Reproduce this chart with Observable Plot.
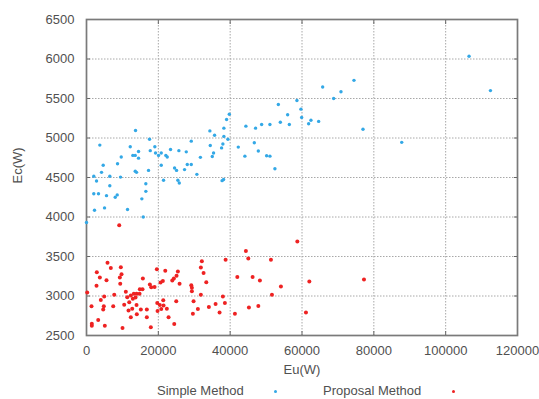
<!DOCTYPE html>
<html><head><meta charset="utf-8">
<script src="https://cdn.jsdelivr.net/npm/d3@7"></script>
<script src="https://cdn.jsdelivr.net/npm/@observablehq/plot@0.6"></script>
<style>
body{margin:0;background:#fff;font-family:"Liberation Sans",Arial,sans-serif;}
#wrap{position:relative;width:539px;height:399px;overflow:hidden;}
.lg{position:absolute;font-size:13px;color:#505050;top:383px;white-space:nowrap;line-height:16px;}
.dot{position:absolute;width:3px;height:3px;border-radius:50%;top:390px;}
</style></head><body><div id="wrap"></div>
<script>
const xTicks = [0, 20000, 40000, 60000, 80000, 100000, 120000];
const yTicks = [2500, 3000, 3500, 4000, 4500, 5000, 5500, 6000, 6500];
const seriesNames = ["Simple Method", "Proposal Method"];
const seriesColors = ["#33a8e6", "#ee2222"];
const xLabel = "Eu(W)";
const yLabel = "Ec(W)";

const simplePoints = [[0,3930],[2030,4515],[2230,4085],[2790,4455],[2030,4295],[3340,4295],[3710,4910],[4180,4565],[4650,4655],[5020,4115],[5570,4270],[6490,4515],[6490,4395],[8000,4250],[8550,4280],[8640,4675],[9470,4505],[9670,4760],[11420,4095],[12180,4890],[12900,4780],[13570,4780],[13650,5095],[13570,4580],[13930,4565],[14490,4830],[14490,4745],[15410,4230],[15800,4000],[16520,4420],[16520,4325],[17270,4590],[17550,4985],[17750,4840],[19030,4890],[19220,4810],[20060,4780],[20810,4810],[20810,4655],[21450,4465],[22090,4780],[22480,4760],[23400,4855],[24520,4620],[25070,4590],[25440,4465],[25830,4430],[25720,4840],[27300,4600],[27780,4825],[28060,4665],[29170,4665],[29170,4960],[30730,4540],[31710,4755],[34350,5090],[34460,4905],[35020,4765],[35380,4810],[35660,5035],[37610,4875],[37750,4460],[38170,4475],[37970,4925],[38250,5125],[38250,5020],[39000,5235],[39370,4985],[39760,5300],[42260,4885],[44100,4770],[44380,5150],[46720,4940],[47080,5125],[47840,4835],[48760,5170],[50150,4775],[51070,5170],[51070,4770],[52460,4610],[53410,5425],[53970,5200],[56000,5295],[56470,5170],[58590,5475],[59700,5365],[59900,5260],[61850,5180],[62490,5225],[64640,5210],[65750,5645],[68810,5500],[70850,5585],[74470,5730],[76980,5110],[87760,4945],[106510,6035],[112470,5600]];

const proposalPoints = [[200,3045],[1390,2870],[1480,2650],[1480,2625],[2790,3130],[2870,3300],[3260,2695],[3710,3235],[3980,2950],[4650,2830],[4820,2870],[4930,2995],[5100,2625],[5570,3200],[5850,3420],[6770,3355],[7440,2870],[7720,3015],[9110,3895],[9280,3235],[9390,3155],[9560,3365],[9750,3275],[10030,2595],[10500,2890],[10950,3055],[11340,2985],[11700,2815],[11900,2920],[12340,3005],[12340,2730],[12730,2840],[12900,2965],[13180,3030],[13650,2980],[13930,3030],[13930,2885],[14010,2770],[14770,3030],[14850,3085],[15130,2830],[15600,3085],[15690,3220],[16800,2830],[16800,2730],[17640,3145],[17910,2605],[18030,3110],[18950,3115],[19590,3340],[19700,2910],[19780,2810],[20420,2885],[20620,3170],[20810,2835],[21260,3190],[21370,2945],[21450,2880],[21930,3320],[22370,2840],[22850,2730],[23880,3195],[24320,3220],[24430,2645],[24990,2935],[25070,3255],[25440,3310],[25910,3155],[29170,3135],[29340,3105],[29340,3060],[29620,2775],[29810,2935],[31010,2835],[31840,3015],[31840,3360],[32120,3440],[32600,3290],[33350,3175],[34070,2860],[35940,2900],[37050,2790],[37970,2995],[38530,2910],[38730,3460],[41320,2775],[41990,3240],[44380,3570],[45050,3475],[45220,2855],[46250,3240],[47840,2875],[48280,3195],[51350,3460],[51630,3015],[54130,3120],[58700,3690],[61100,2790],[62040,3185],[77260,3210]];

const font = "'Liberation Sans', Arial, sans-serif";
const textColor = "#505050";

const chart = Plot.plot({
  width: 539,
  height: 378,
  marginTop: 19,
  marginLeft: 86,
  marginRight: 22,
  marginBottom: 43,
  x: {domain: [0, 120000]},
  y: {domain: [2500, 6500]},
  style: {fontFamily: font, fontSize: "13px", color: textColor, background: "#fff", overflow: "visible"},
  marks: [
    Plot.gridX(xTicks.slice(1, -1), {stroke: "#a8a8a8", strokeOpacity: 1, strokeDasharray: "1.5,1.5"}),
    Plot.gridY(yTicks.slice(1, -1), {stroke: "#a8a8a8", strokeOpacity: 1, strokeDasharray: "1.5,1.5"}),
    Plot.axisX(xTicks, {anchor: "bottom", tickSize: 0, tickPadding: 10, label: null, tickFormat: d => String(d)}),
    Plot.axisY(yTicks, {anchor: "left", tickSize: 0, tickPadding: 12, label: null, tickFormat: d => String(d)}),
    Plot.axisX(xTicks, {anchor: "bottom", tickSize: -4, fill: "none", label: null, stroke: "#666"}),
    Plot.axisX(xTicks, {anchor: "top", tickSize: -4, fill: "none", label: null, stroke: "#666"}),
    Plot.axisY(yTicks, {anchor: "left", tickSize: -4, fill: "none", label: null, stroke: "#666"}),
    Plot.axisY(yTicks, {anchor: "right", tickSize: -4, fill: "none", label: null, stroke: "#666"}),
    Plot.frame({stroke: "#7a7a7a", strokeWidth: 1.7}),
    Plot.text([xLabel], {frameAnchor: "bottom", dy: 38, text: d => d, fill: textColor, fontSize: 13}),
    Plot.text([yLabel], {frameAnchor: "left", dx: -69, dy: 6, rotate: -90, text: d => d, fill: textColor, fontSize: 13}),
    Plot.dot(simplePoints, {x: d => d[0], y: d => d[1], r: 1.7, fill: seriesColors[0], stroke: null}),
    Plot.dot(proposalPoints, {x: d => d[0], y: d => d[1], r: 2, fill: seriesColors[1], stroke: null})
  ]
});

const wrap = document.getElementById("wrap");
wrap.appendChild(chart);

const legendPos = [{text: 157, dot: 274}, {text: 323, dot: 452}];
seriesNames.forEach((name, i) => {
  const t = document.createElement("div");
  t.className = "lg";
  t.textContent = name;
  t.style.left = legendPos[i].text + "px";
  wrap.appendChild(t);
  const d = document.createElement("div");
  d.className = "dot";
  d.style.left = legendPos[i].dot + "px";
  d.style.background = seriesColors[i];
  wrap.appendChild(d);
});
</script>
</body></html>
